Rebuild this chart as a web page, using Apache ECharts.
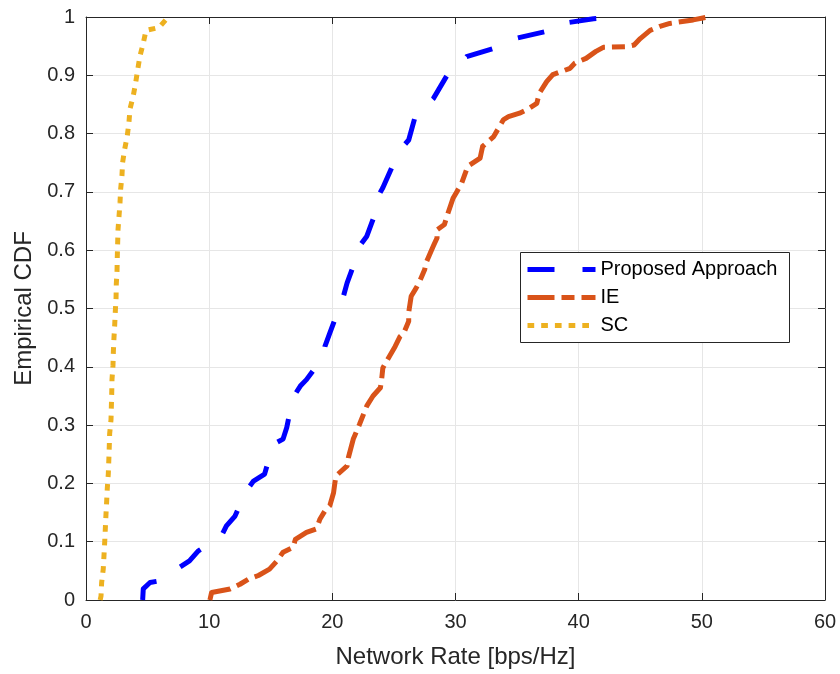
<!DOCTYPE html>
<html>
<head>
<meta charset="utf-8">
<title>Empirical CDF of Network Rate</title>
<script src="https://cdn.jsdelivr.net/npm/echarts@6/dist/echarts.min.js"></script>
<style>
  html, body { margin: 0; padding: 0; background: #ffffff; }
  #chart { width: 840px; height: 674px; }
</style>
</head>
<body>
<div id="chart"></div>
<script>
// Proposed Approach: network rate (bps/Hz) and empirical CDF
var proposedRate = [4.6, 4.65, 5.2, 6.0, 7.6, 8.4, 9.1, 11.0, 11.4, 12.1, 13.0, 13.6, 14.5, 15.2, 16.0, 16.3,
  16.8, 17.4, 17.9, 19.3, 19.4, 19.8, 20.6, 20.9, 21.2, 22.0, 22.2, 22.8, 23.6, 23.7, 24.1, 25.1, 25.5,
  26.2, 26.8, 27.6, 28.2, 29.4, 30.2, 30.9, 33.1, 34.0, 34.8, 37.3, 37.9, 39.0, 41.2, 43.2];
var proposedCdf = [0, 0.019, 0.03, 0.033, 0.056, 0.067, 0.084, 0.11, 0.127, 0.144, 0.187, 0.204, 0.216, 0.267, 0.276, 0.296,
  0.347, 0.367, 0.378, 0.418, 0.435, 0.458, 0.504, 0.521, 0.544, 0.59, 0.607, 0.624, 0.67, 0.692, 0.707, 0.755, 0.772,
  0.789, 0.835, 0.846, 0.86, 0.903, 0.915, 0.932, 0.946, 0.955, 0.963, 0.975, 0.986, 0.99, 0.997, 1.0];

// IE
var ieRate = [10.06, 10.2, 11.7, 12.5, 13.2, 14.0, 14.9, 15.5, 16.0, 16.8, 17.0, 17.9, 18.7, 19.0, 19.4, 19.8,
  20.1, 20.2, 20.3, 21.2, 21.3, 21.7, 22.2, 22.8, 23.3, 23.9, 24.0, 24.1, 24.5, 25.1, 25.5, 25.8, 26.2, 26.2,
  26.4, 26.8, 27.1, 27.5, 27.6, 28.2, 28.5, 28.5, 29.1, 29.3, 29.8, 30.1, 30.5, 31.0, 32.0, 32.2, 33.1, 33.9,
  34.3, 35.2, 35.8, 36.6, 36.8, 37.4, 37.9, 39.3, 39.7, 40.6, 41.4, 42.0, 43.8, 44.5, 45.0, 45.8, 46.6, 47.4,
  49.3, 50.5];
var ieCdf = [0, 0.013, 0.019, 0.027, 0.036, 0.042, 0.053, 0.067, 0.082, 0.09, 0.104, 0.116, 0.122, 0.139, 0.153, 0.162,
  0.184, 0.2, 0.213, 0.23, 0.244, 0.276, 0.301, 0.333, 0.35, 0.364, 0.378, 0.398, 0.413, 0.435, 0.452, 0.458, 0.478, 0.493,
  0.521, 0.535, 0.547, 0.567, 0.578, 0.607, 0.621, 0.635, 0.644, 0.658, 0.689, 0.70, 0.715, 0.744, 0.758, 0.778, 0.795, 0.824,
  0.829, 0.835, 0.841, 0.852, 0.869, 0.889, 0.901, 0.912, 0.921, 0.929, 0.941, 0.948, 0.949, 0.952, 0.963, 0.977, 0.984, 0.989,
  0.995, 1.0];

// SC
var scRate = [1.15, 1.22, 1.27, 1.4, 1.46, 1.52, 1.57, 1.62, 1.68, 1.73, 1.81, 1.87, 1.92, 2.03, 2.09, 2.11, 2.19,
  2.22, 2.27, 2.33, 2.38, 2.44, 2.46, 2.52, 2.54, 2.57, 2.6, 2.68, 2.76, 2.81, 2.92, 2.97, 3.14, 3.35, 3.49,
  3.57, 3.84, 4.03, 4.2, 4.38, 4.65, 4.87, 5.93, 6.55, 6.8];
var scCdf = [0, 0.007, 0.03, 0.053, 0.076, 0.1, 0.123, 0.146, 0.17, 0.192, 0.216, 0.25, 0.285, 0.309, 0.356, 0.378, 0.402,
  0.425, 0.449, 0.472, 0.495, 0.518, 0.542, 0.565, 0.588, 0.611, 0.635, 0.658, 0.681, 0.704, 0.728, 0.75, 0.773, 0.796, 0.82,
  0.842, 0.865, 0.887, 0.91, 0.933, 0.955, 0.977, 0.982, 0.997, 1.0];

var seriesNames = ['Proposed Approach', 'IE', 'SC'];
var xTitle = 'Network Rate [bps/Hz]';
var yTitle = 'Empirical CDF';

function pairs(xs, ys) {
  return xs.map(function (x, i) { return [x, ys[i]]; });
}

var FONT = '"Liberation Sans", Arial, Helvetica, sans-serif';
var AXIS_COLOR = '#262626';
var GRID_COLOR = '#e6e6e6';

// Line styles shared by the plotted curves and the legend samples
var styles = [
  { color: '#0000ff', dash: [27, 28] },
  { color: '#d95319', dash: [27, 7, 13, 7] },
  { color: '#edb120', dash: [6.7, 7] }
];
var LINE_W = 5;

function boxAxis(extra) {
  var base = {
    type: 'value',
    axisLine: { show: true, onZero: false, lineStyle: { color: AXIS_COLOR, width: 1 } },
    axisTick: { show: true, inside: true, length: 7, lineStyle: { color: AXIS_COLOR } },
    splitLine: { show: false },
    axisLabel: { show: false }
  };
  return Object.assign(base, extra);
}

// Legend box drawn as a graphic group: frame, dashed samples, labels
function legendGraphic() {
  var left = 520, top = 252, w = 269, h = 90;
  var rowY = [269, 297, 325];
  var Z = 100;
  var children = [{
    type: 'rect', z: Z,
    shape: { x: 0, y: 0, width: w, height: h },
    style: { fill: '#ffffff', stroke: AXIS_COLOR, lineWidth: 1 }
  }];
  seriesNames.forEach(function (name, i) {
    var y = rowY[i] - top;
    children.push({
      type: 'line', z: Z + 1,
      shape: { x1: 7, y1: y, x2: 75, y2: y },
      style: { stroke: styles[i].color, lineWidth: LINE_W, lineDash: styles[i].dash, lineCap: 'butt' }
    });
    children.push({
      type: 'text', z: Z + 1,
      x: 80, y: y,
      style: { text: name, fill: '#000000', font: '20px ' + FONT, verticalAlign: 'middle', align: 'left' }
    });
  });
  return [{ type: 'group', left: left, top: top, z: Z, silent: true, children: children }];
}

var chart = echarts.init(document.getElementById('chart'), null, { renderer: 'canvas' });

var option = {
  backgroundColor: '#ffffff',
  animation: false,
  grid: { left: 86, right: 15, top: 17, bottom: 73, containLabel: false },
  xAxis: [
    boxAxis({
      min: 0, max: 60, interval: 10, position: 'bottom',
      splitLine: { show: true, lineStyle: { color: GRID_COLOR, width: 1 } },
      axisLabel: { show: true, color: AXIS_COLOR, fontFamily: FONT, fontSize: 20, margin: 12 },
      name: xTitle, nameLocation: 'middle', nameGap: 45,
      nameTextStyle: { color: AXIS_COLOR, fontFamily: FONT, fontSize: 24 }
    }),
    boxAxis({ min: 0, max: 60, interval: 10, position: 'top' })
  ],
  yAxis: [
    boxAxis({
      min: 0, max: 1, interval: 0.1, position: 'left',
      splitLine: { show: true, lineStyle: { color: GRID_COLOR, width: 1 } },
      axisLabel: {
        show: true, color: AXIS_COLOR, fontFamily: FONT, fontSize: 20, margin: 11,
        formatter: function (v) { return String(Math.round(v * 10) / 10); }
      },
      name: yTitle, nameLocation: 'middle', nameGap: 49,
      nameTextStyle: { color: AXIS_COLOR, fontFamily: FONT, fontSize: 24 }
    }),
    boxAxis({ min: 0, max: 1, interval: 0.1, position: 'right' })
  ],
  graphic: legendGraphic(),
  series: [
    { name: seriesNames[0], data: pairs(proposedRate, proposedCdf), style: styles[0] },
    { name: seriesNames[1], data: pairs(ieRate, ieCdf), style: styles[1] },
    { name: seriesNames[2], data: pairs(scRate, scCdf), style: styles[2] }
  ].map(function (s) {
    return {
      name: s.name, type: 'line', xAxisIndex: 0, yAxisIndex: 0,
      data: s.data, symbol: 'none', silent: true,
      lineStyle: { color: s.style.color, width: LINE_W, type: s.style.dash, cap: 'butt', join: 'round' },
      itemStyle: { color: s.style.color }
    };
  })
};

chart.setOption(option);
</script>
</body>
</html>
